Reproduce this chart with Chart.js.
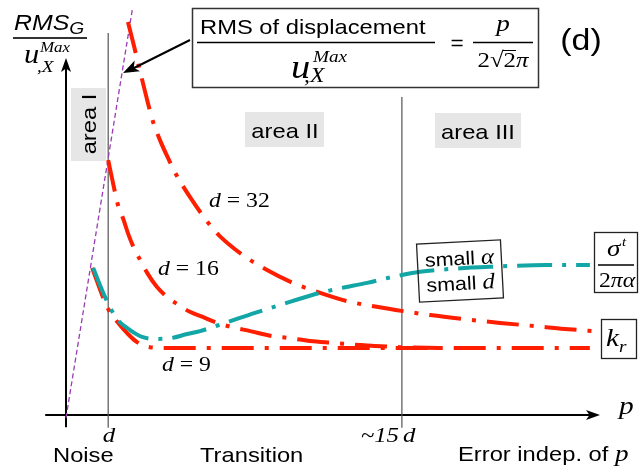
<!DOCTYPE html>
<html>
<head>
<meta charset="utf-8">
<script src="https://cdn.jsdelivr.net/npm/chart.js@4.4.0/dist/chart.umd.min.js"></script>
<style>
  body { margin: 0; background: #fff; }
  #wrap { width: 640px; height: 471px; }
</style>
</head>
<body>
<div id="wrap"><canvas id="chart" width="640" height="471"></canvas></div>
<script>
// Values. Both axes run 0..100 from the origin to the arrow heads.
const d32X = [11.6, 12.7, 13.9, 15.2, 16.3, 17.6, 19.1, 20.8, 23.2, 26.8, 28.8, 33.1, 37.3, 42.5, 47.6, 52.6, 58.2, 63.1, 68.2, 74.3, 81.3, 87.8, 93.4, 98.9];
const d32Y = [110.1, 103.6, 96.1, 88.2, 82.1, 77.0, 72.0, 66.9, 61.1, 53.5, 50.1, 44.8, 40.9, 37.0, 34.2, 31.9, 30.3, 29.1, 28.0, 26.9, 25.8, 24.9, 24.1, 23.5];

const d16X = [7.9, 8.6, 9.2, 9.7, 10.7, 11.8, 12.9, 13.9, 15.2, 17.0, 18.9, 20.8, 23.2, 26.0, 28.3, 31.1, 34.5, 38.6, 41.6, 45.7, 50.0, 55.1, 62.5, 70.0];
const d16Y = [71.4, 66.4, 62.2, 59.0, 55.0, 50.1, 46.2, 43.4, 39.8, 35.9, 33.1, 31.1, 28.9, 27.2, 25.8, 24.6, 23.5, 22.1, 21.6, 20.7, 20.2, 19.6, 19.0, 18.8];

const d9X = [4.9, 5.8, 6.9, 7.9, 9.6, 11.4, 13.3, 15.7, 18.5, 98.1];
const d9Y = [41.2, 37.5, 33.1, 29.7, 26.1, 23.0, 20.4, 19.0, 18.8, 18.8];

const sigmaX = [5.1, 6.2, 7.3, 8.4, 9.7, 12.0, 14.4, 17.0, 19.9, 22.5, 25.1, 29.8, 35.4, 40.1, 46.1, 50.7, 56.4, 61.2, 66.3, 71.9, 79.4, 90.1, 98.1];
const sigmaY = [41.2, 37.0, 33.1, 29.7, 26.6, 23.8, 21.8, 21.3, 21.6, 22.6, 23.5, 25.8, 28.6, 30.8, 33.6, 35.3, 37.0, 38.7, 40.1, 40.9, 41.5, 42.0, 42.0];

// the p / (2 sqrt2 pi) limit
const noiseX = [0, 12.4];
const noiseY = [-0.8, 113.4];

// tick marks on the p axis and how far up their guide lines go
const tickX = [7.9, 62.9];
const tickTop = [107, 89.1];
const tickBottom = -3.6;

const RED = '#ff1e00';
const TEAL = '#12a6a6';
const SANS = '"Liberation Sans", Arial, sans-serif';
const SERIF = '"Liberation Serif", "Times New Roman", serif';
const SX = 1.13; // the original is a little stretched sideways

const pts = (xs, ys) => xs.map((x, i) => ({ x: x, y: ys[i] }));

// draws a run of text pieces, returns the left edge of every piece
function rich(ctx, x, y, parts, align) {
    const widths = parts.map(p => {
        ctx.save();
        ctx.font = p.f;
        const w = ctx.measureText(p.t).width * SX + (p.gap || 0);
        ctx.restore();
        return w;
    });
    const total = widths.reduce((a, b) => a + b, 0);
    let cx = x;
    if (align === 'center') cx = x - total / 2;
    if (align === 'right') cx = x - total;
    const lefts = [];
    parts.forEach((p, i) => {
        lefts.push(cx);
        ctx.save();
        ctx.font = p.f;
        ctx.translate(cx, y + (p.dy || 0));
        ctx.scale(SX, 1);
        ctx.textAlign = 'left';
        ctx.textBaseline = 'alphabetic';
        ctx.fillStyle = p.c || '#000';
        ctx.fillText(p.t, 0, 0);
        ctx.restore();
        cx += widths[i];
    });
    lefts.push(cx);
    return lefts;
}

function line(ctx, x1, y1, x2, y2, lw, col) {
    ctx.save();
    ctx.beginPath();
    ctx.moveTo(x1, y1);
    ctx.lineTo(x2, y2);
    ctx.lineWidth = lw;
    ctx.strokeStyle = col || '#000';
    ctx.stroke();
    ctx.restore();
}

function arrowHead(ctx, x, y, ang, len, half) {
    ctx.save();
    ctx.translate(x, y);
    ctx.rotate(ang);
    ctx.beginPath();
    ctx.moveTo(0, 0);
    ctx.lineTo(-len, -half);
    ctx.lineTo(-len * 0.75, 0);
    ctx.lineTo(-len, half);
    ctx.closePath();
    ctx.fillStyle = '#000';
    ctx.fill();
    ctx.restore();
}

function greyBox(ctx, x, y, w, h) {
    ctx.save();
    ctx.fillStyle = '#e6e6e6';
    ctx.fillRect(x, y, w, h);
    ctx.restore();
}

const decor = {
    id: 'decor',
    beforeDatasetsDraw(chart) {
        const ctx = chart.ctx;
        greyBox(ctx, 71, 88, 35, 73);
        greyBox(ctx, 245, 112, 79, 35);
        greyBox(ctx, 435, 113, 86, 35);
        // axes
        const xs = chart.scales.x, ys = chart.scales.y;
        const ox = xs.getPixelForValue(0), oy = ys.getPixelForValue(0);
        const xEnd = xs.getPixelForValue(100), yEnd = ys.getPixelForValue(100);
        line(ctx, xs.getPixelForValue(-3.9), oy, xEnd - 6, oy, 2);
        arrowHead(ctx, xEnd, oy, 0, 14, 5);
        line(ctx, ox, ys.getPixelForValue(-3.4), ox, yEnd + 6, 2);
        arrowHead(ctx, ox, yEnd, -Math.PI / 2, 14, 5);
    },
    afterDatasetsDraw(chart) {
        const ctx = chart.ctx;

        // area labels
        rich(ctx, 285, 138, [{ t: 'area II', f: '21px ' + SANS }], 'center');
        rich(ctx, 478, 139, [{ t: 'area III', f: '21px ' + SANS }], 'center');
        ctx.save();
        ctx.translate(96, 124);
        ctx.rotate(-Math.PI / 2);
        rich(ctx, 0, 0, [{ t: 'area I', f: '21px ' + SANS }], 'center');
        ctx.restore();

        // y axis label
        rich(ctx, 14, 30, [{ t: 'RMS', f: 'italic 22px ' + SANS }, { t: 'G', f: 'italic 17px ' + SANS, dy: 4 }], 'left');
        line(ctx, 13, 38, 87, 38, 2, '#333');
        rich(ctx, 24, 63, [{ t: 'u', f: 'italic 27px ' + SERIF }], 'left');
        rich(ctx, 40, 52, [{ t: 'Max', f: 'italic 15px ' + SERIF }], 'left');
        rich(ctx, 37, 72, [{ t: ',X', f: 'italic 17px ' + SERIF }], 'left');

        // formula box
        ctx.save();
        ctx.strokeStyle = '#333';
        ctx.lineWidth = 1.5;
        ctx.strokeRect(192.5, 8.5, 346, 79);
        ctx.restore();
        rich(ctx, 200, 34, [{ t: 'RMS of displacement', f: '21px ' + SANS }], 'left');
        line(ctx, 197, 42.5, 435, 42.5, 1.5);
        rich(ctx, 291, 78, [{ t: 'u', f: 'italic 34px ' + SERIF }], 'left');
        rich(ctx, 313, 62, [{ t: 'Max', f: 'italic 17px ' + SERIF }], 'left');
        rich(ctx, 304, 82, [{ t: ',X', f: 'italic 21px ' + SERIF }], 'left');
        rich(ctx, 457, 50, [{ t: '=', f: '20px ' + SANS }], 'center');
        rich(ctx, 503, 31, [{ t: 'p', f: 'italic 24px ' + SERIF }], 'center');
        line(ctx, 473, 42.5, 533, 42.5, 1.5);
        const rad = rich(ctx, 503, 67, [
            { t: '2', f: '22px ' + SERIF },
            { t: '\u221A', f: '22px ' + SERIF },
            { t: '2', f: '22px ' + SERIF },
            { t: '\u03C0', f: 'italic 22px ' + SERIF }
        ], 'center');
        line(ctx, rad[2] - 1, 50.5, rad[3], 50.5, 1);
        rich(ctx, 581, 50, [{ t: '(d)', f: '30px ' + SANS }], 'center');

        // pointer to the limit line
        line(ctx, 190, 40, 132, 69, 2);
        arrowHead(ctx, 123, 73, Math.atan2(73 - 40, 123 - 190), 16, 6);

        // curve labels
        const dLab = (x, y, n) => rich(ctx, x, y, [
            { t: 'd', f: 'italic 21px ' + SERIF },
            { t: ' = ' + n, f: '21px ' + SERIF }
        ], 'left');
        dLab(209, 207, '32');
        dLab(158, 275, '16');
        dLab(162, 371, '9');

        // small alpha / small d box
        ctx.save();
        ctx.translate(460, 271);
        ctx.rotate(-3 * Math.PI / 180);
        ctx.strokeStyle = '#222';
        ctx.lineWidth = 1.3;
        ctx.strokeRect(-42, -29, 84, 58);
        rich(ctx, 0, -6, [{ t: 'small ', f: '19px ' + SANS }, { t: '\u03B1', f: 'italic 22px ' + SERIF }], 'center');
        rich(ctx, 0, 19, [{ t: 'small ', f: '19px ' + SANS }, { t: 'd', f: 'italic 22px ' + SERIF }], 'center');
        ctx.restore();

        // sigma^t / 2 pi alpha box and k_r box
        ctx.save();
        ctx.strokeStyle = '#222';
        ctx.lineWidth = 1.3;
        ctx.strokeRect(594.5, 232.5, 43, 60);
        ctx.strokeRect(601.5, 319.5, 35, 39);
        ctx.restore();
        rich(ctx, 607, 256, [{ t: '\u03C3', f: 'italic 24px ' + SERIF }], 'left');
        rich(ctx, 622, 246, [{ t: 't', f: 'italic 13px ' + SERIF }], 'left');
        line(ctx, 598, 265, 634, 265, 1.3);
        rich(ctx, 617, 287, [{ t: '2', f: '21px ' + SERIF }, { t: '\u03C0\u03B1', f: 'italic 21px ' + SERIF }], 'center');
        rich(ctx, 606, 346, [{ t: 'k', f: 'italic 26px ' + SERIF }], 'left');
        rich(ctx, 619, 352, [{ t: 'r', f: 'italic 17px ' + SERIF }], 'left');

        // bottom texts
        rich(ctx, 619, 414, [{ t: 'p', f: 'italic 26px ' + SERIF }], 'left');
        rich(ctx, 109, 442, [{ t: 'd', f: 'italic 22px ' + SERIF }], 'center');
        rich(ctx, 399, 442, [{ t: '~15', f: 'italic 22px ' + SERIF }], 'right');
        rich(ctx, 403, 442, [{ t: 'd', f: 'italic 22px ' + SERIF }], 'left');
        rich(ctx, 53, 462, [{ t: 'Noise', f: '21px ' + SANS }], 'left');
        rich(ctx, 200, 462, [{ t: 'Transition', f: '21px ' + SANS }], 'left');
        rich(ctx, 458, 461, [{ t: 'Error indep. of ', f: '21px ' + SANS }, { t: 'p', f: 'italic 24px ' + SERIF }], 'left');
    }
};

const curve = (xs, ys, color, dash) => ({
    data: pts(xs, ys),
    showLine: true,
    borderColor: color,
    borderWidth: 4,
    borderDash: dash,
    borderCapStyle: 'butt',
    pointRadius: 0,
    cubicInterpolationMode: 'monotone',
    fill: false
});

const guide = (x, top) => ({
    data: [{ x: x, y: tickBottom }, { x: x, y: top }],
    showLine: true,
    borderColor: '#555',
    borderWidth: 1.2,
    pointRadius: 0
});

new Chart(document.getElementById('chart'), {
    type: 'scatter',
    data: {
        datasets: [
            curve(sigmaX, sigmaY, TEAL, [35, 10, 4, 10]),
            curve(d32X, d32Y, RED, [32, 11, 4, 11]),
            curve(d16X, d16Y, RED, [32, 11, 4, 11]),
            curve(d9X, d9Y, RED, [32, 11, 4, 11]),
            {
                data: pts(noiseX, noiseY),
                showLine: true,
                borderColor: '#9b3cb4',
                borderWidth: 1.3,
                borderDash: [5, 3],
                pointRadius: 0
            },
            guide(tickX[0], tickTop[0]),
            guide(tickX[1], tickTop[1])
        ]
    },
    options: {
        responsive: false,
        animation: false,
        layout: { padding: 0 },
        plugins: { legend: { display: false }, tooltip: { enabled: false } },
        scales: {
            x: { type: 'linear', display: false, min: -12.36, max: 107.49 },
            y: { type: 'linear', display: false, min: -15.69, max: 116.25 }
        }
    },
    plugins: [decor]
});
</script>
</body>
</html>
